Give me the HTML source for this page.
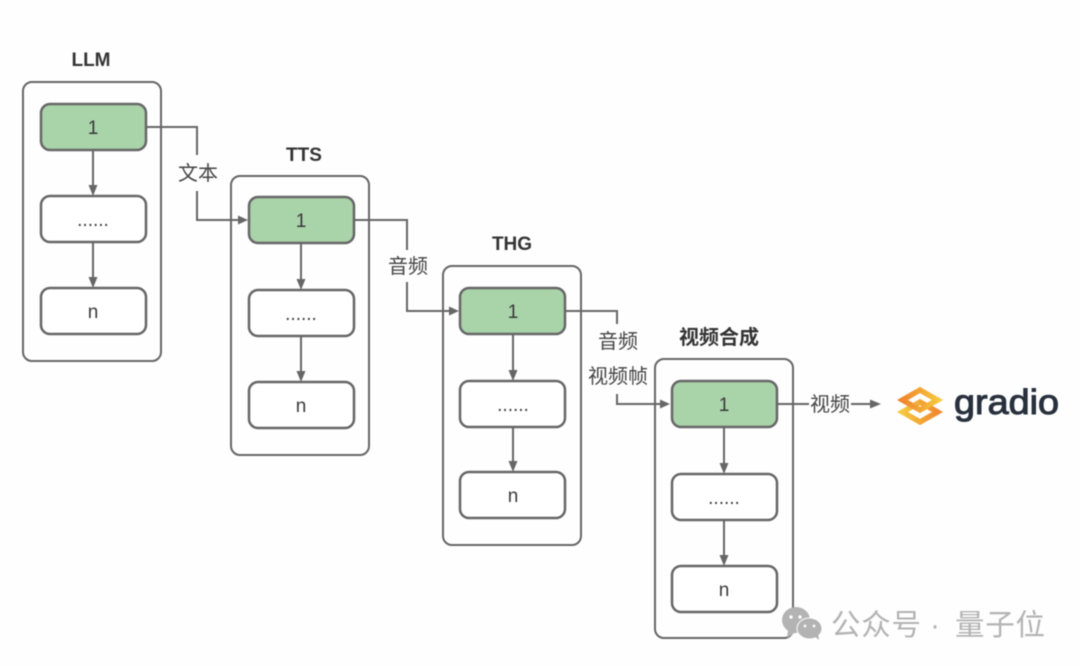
<!DOCTYPE html>
<html>
<head>
<meta charset="utf-8">
<style>
html,body{margin:0;padding:0;background:#fefefe;width:1080px;height:666px;overflow:hidden}
svg{display:block;filter:blur(.4px)}
text{font-family:"Liberation Sans","Noto Sans CJK SC",sans-serif}
</style>
</head>
<body>
<svg width="1080" height="666" viewBox="0 0 1080 666" xmlns="http://www.w3.org/2000/svg">
<defs>
<linearGradient id="g1" x1="0" y1="0" x2="1" y2="0"><stop offset="0" stop-color="#f0862e"/><stop offset="1" stop-color="#f5c63c"/></linearGradient>
<linearGradient id="g2" x1="0" y1="0" x2="1" y2="0"><stop offset="0" stop-color="#f5c83e"/><stop offset="1" stop-color="#f0892f"/></linearGradient>
</defs>

<!-- outer groups -->
<g fill="none" stroke="#666" stroke-width="2">
<rect x="23" y="82" width="138" height="279" rx="9"/>
<rect x="231" y="176" width="138" height="279" rx="9"/>
<rect x="443" y="266" width="138" height="279" rx="9"/>
<rect x="655" y="359" width="138" height="279" rx="9"/>
</g>

<!-- connectors -->
<g fill="none" stroke="#666" stroke-width="2">
<path d="M146 127H197V155"/>
<path d="M197 191V220H240"/>
<path d="M354 220H407V250"/>
<path d="M407 282V311H451"/>
<path d="M565 311H617V324"/>
<path d="M617 394V404H662"/>
<path d="M777 404H809"/>
<path d="M851 404H871"/>
<path d="M93 150V187"/>
<path d="M93 242V279"/>
<path d="M301 243V281"/>
<path d="M301 336V373"/>
<path d="M513 334V372"/>
<path d="M513 427V463"/>
<path d="M724 427V465"/>
<path d="M724 520V557"/>
</g>
<g fill="#666">
<path d="M248 220L238 215.500V224.500Z"/>
<path d="M459 311L449 306.500V315.500Z"/>
<path d="M670 404L660 399.500V408.500Z"/>
<path d="M881 404L870 399.500V408.500Z"/>
<path d="M93 196L88.500 185H97.500Z"/>
<path d="M93 288L88.500 277H97.500Z"/>
<path d="M301 290L296.500 279H305.500Z"/>
<path d="M301 382L296.500 371H305.500Z"/>
<path d="M513 381L508.500 370H517.500Z"/>
<path d="M513 472L508.500 461H517.500Z"/>
<path d="M724 474L719.500 463H728.500Z"/>
<path d="M724 566L719.500 555H728.500Z"/>
</g>

<!-- nodes -->
<g stroke="#666" stroke-width="2.500">
<rect x="41" y="104" width="105" height="46" rx="9" fill="#a9d3a9"/>
<rect x="41" y="196" width="105" height="46" rx="9" fill="#fff"/>
<rect x="41" y="288" width="105" height="46" rx="9" fill="#fff"/>
<rect x="249" y="197" width="105" height="46" rx="9" fill="#a9d3a9"/>
<rect x="249" y="290" width="105" height="46" rx="9" fill="#fff"/>
<rect x="249" y="382" width="105" height="46" rx="9" fill="#fff"/>
<rect x="460" y="288" width="105" height="46" rx="9" fill="#a9d3a9"/>
<rect x="460" y="381" width="105" height="46" rx="9" fill="#fff"/>
<rect x="460" y="472" width="105" height="46" rx="9" fill="#fff"/>
<rect x="672" y="381" width="105" height="46" rx="9" fill="#a9d3a9"/>
<rect x="672" y="474" width="105" height="46" rx="9" fill="#fff"/>
<rect x="672" y="566" width="105" height="46" rx="9" fill="#fff"/>
</g>

<!-- node labels -->
<g font-size="19" fill="#3a3a3a" text-anchor="middle">
<text x="93" y="134">1</text>
<text x="93" y="226">......</text>
<text x="93" y="318">n</text>
<text x="301" y="227">1</text>
<text x="301" y="320">......</text>
<text x="301" y="412">n</text>
<text x="513" y="318">1</text>
<text x="513" y="411">......</text>
<text x="513" y="502">n</text>
<text x="724" y="411">1</text>
<text x="724" y="504">......</text>
<text x="724" y="596">n</text>
</g>

<!-- group titles -->
<g font-size="19" font-weight="bold" fill="#333" text-anchor="middle">
<text x="91" y="66">LLM</text>
<text x="304" y="161">TTS</text>
<text x="512" y="250">THG</text>
<text x="719" y="344" font-size="20">视频合成</text>
</g>

<!-- connector labels -->
<g font-size="20" fill="#444" text-anchor="middle">
<text x="198" y="180">文本</text>
<text x="408" y="273">音频</text>
<text x="618" y="348">音频</text>
<text x="618" y="383">视频帧</text>
<text x="830" y="411">视频</text>
</g>

<!-- gradio logo -->
<g fill="none" stroke-width="5.500" stroke-linejoin="miter">
<path d="M920 402L937.500 412L920 422L902.500 412Z" stroke="url(#g2)"/>
<path d="M920 390L937.500 400L920 410L902.500 400Z" stroke="url(#g1)"/>
</g>
<text x="954" y="414" font-size="35" fill="#27303c" stroke="#27303c" stroke-width="1" textLength="105" lengthAdjust="spacingAndGlyphs">gradio</text>

<!-- watermark -->
<g fill="#b3b3b3">
<ellipse cx="796" cy="620" rx="14" ry="13"/>
<path d="M788 630L787 638L796 632Z"/>
<ellipse cx="809.500" cy="628.500" rx="12.500" ry="10.500" stroke="#fefefe" stroke-width="1"/>
<path d="M814 636L819 640L818 632Z"/>
</g>
<g fill="#fefefe">
<circle cx="791" cy="617" r="1.700"/><circle cx="800" cy="617" r="1.700"/>
<circle cx="805" cy="626" r="1.400"/><circle cx="814" cy="626" r="1.400"/>
</g>
<g font-size="29.500" fill="#b3b3b3">
<text x="831" y="635" textLength="90" lengthAdjust="spacing">公众号</text>
<text x="935" y="635" text-anchor="middle">·</text>
<text x="955" y="635" textLength="90" lengthAdjust="spacing">量子位</text>
</g>
</svg>
</body>
</html>
